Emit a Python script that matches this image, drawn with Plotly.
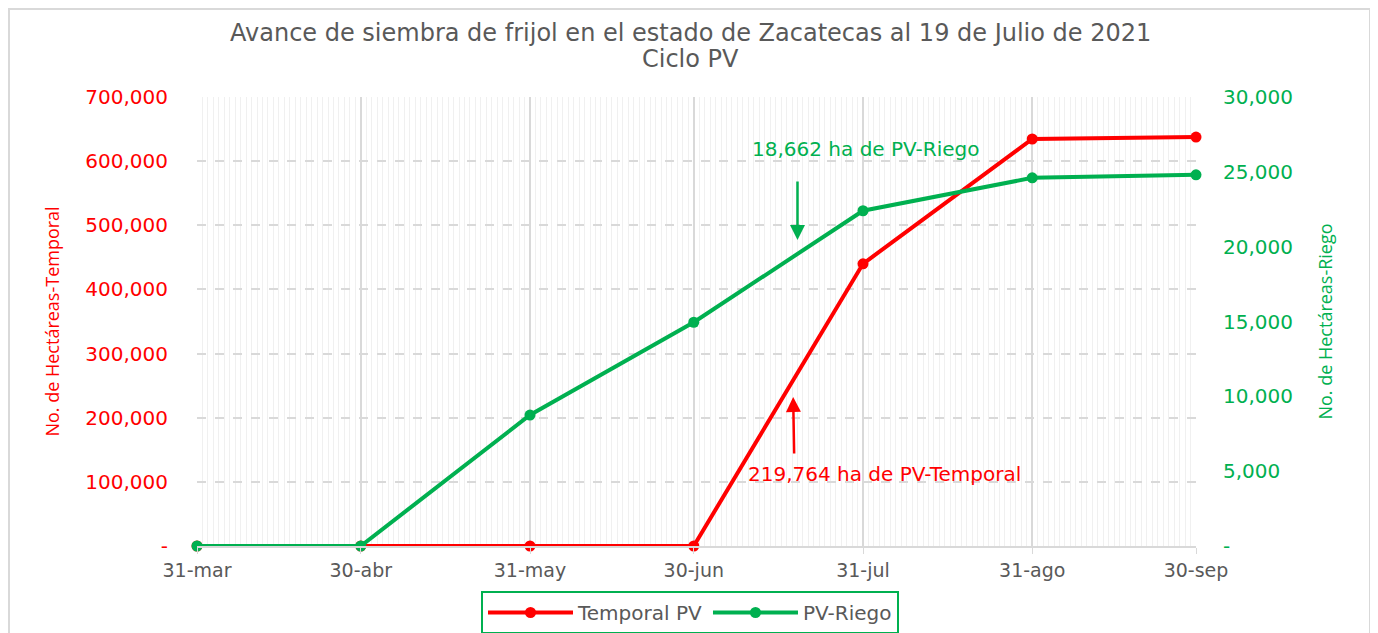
import plotly.graph_objects as go

fechas = ["2021-03-31", "2021-04-30", "2021-05-31", "2021-06-30", "2021-07-31", "2021-08-31", "2021-09-30"]
etiquetas_x = ["31-mar", "30-abr", "31-may", "30-jun", "31-jul", "31-ago", "30-sep"]
temporal_pv = [0, 0, 0, 0, 440000, 634500, 637500]
pv_riego = [0, 0, 8750, 14950, 22400, 24600, 24800]

ticks_izq = [0, 100000, 200000, 300000, 400000, 500000, 600000, 700000]
ticks_izq_txt = ["-", "100,000", "200,000", "300,000", "400,000", "500,000", "600,000", "700,000"]
ticks_der = [0, 5000, 10000, 15000, 20000, 25000, 30000]
ticks_der_txt = ["-", "5,000", "10,000", "15,000", "20,000", "25,000", "30,000"]

RED = "#ff0000"
GREEN = "#00b050"
GRAY = "#595959"
FONT = "DejaVu Sans"

# page has an 8px body margin; layout numbers below account for it
L, R, T, B = 189, 190, 89, 95
PW, PH = 1378 - L - R, 633 - T - B


def px(xp):
    return (xp - 8 - L) / PW


def py(yp):
    return (633 - B - (yp - 8)) / PH


fig = go.Figure()
fig.add_trace(go.Scatter(x=fechas, y=temporal_pv, name="Temporal PV", mode="lines+markers",
                         line=dict(color=RED, width=4), marker=dict(size=11, color=RED), cliponaxis=False))
fig.add_trace(go.Scatter(x=fechas, y=pv_riego, name="PV-Riego", mode="lines+markers", yaxis="y2",
                         line=dict(color=GREEN, width=4), marker=dict(size=11, color=GREEN), cliponaxis=False))

fig.update_layout(
    width=1378, height=633,
    margin=dict(l=L, r=R, t=T, b=B, autoexpand=False),
    paper_bgcolor="white", plot_bgcolor="white",
    font=dict(family=FONT, color=GRAY),
    xaxis=dict(type="date", range=["2021-03-31", "2021-09-30"], automargin=False,
               tickvals=fechas, ticktext=etiquetas_x,
               tickfont=dict(size=19, color=GRAY, family=FONT),
               showgrid=True, gridcolor="#d9d9d9", gridwidth=1.5,
               minor=dict(dtick=86400000, tick0="2021-03-31", showgrid=True, gridcolor="#f0f0f0", gridwidth=1),
               ticks="outside", ticklen=6, tickcolor="#d9d9d9",
               showline=True, linecolor="#d9d9d9", linewidth=1.5, zeroline=False),
    yaxis=dict(range=[0, 700000], tickvals=ticks_izq, ticktext=ticks_izq_txt, automargin=False,
               tickfont=dict(size=20, color=RED, family=FONT),
               title=dict(text="No. de Hectáreas-Temporal", font=dict(size=18, color=RED, family="Open Sans"), standoff=20),
               showgrid=True, gridcolor="#d9d9d9", griddash="dash", gridwidth=1.5,
               zeroline=False, ticklabelstandoff=28),
    yaxis2=dict(range=[0, 30000], overlaying="y", side="right", tickvals=ticks_der, ticktext=ticks_der_txt,
                automargin=False,
                tickfont=dict(size=20, color=GREEN, family=FONT),
                title=dict(text="No. de Hectáreas-Riego", font=dict(size=18, color=GREEN, family="Open Sans"), standoff=27),
                showgrid=False, zeroline=False, ticklabelstandoff=26),
    legend=dict(orientation="h", x=px(690), xanchor="center", y=py(591), yanchor="top",
                bordercolor=GREEN, borderwidth=2, font=dict(size=20, color=GRAY, family=FONT),
                itemwidth=85, tracegroupgap=0),
    showlegend=True,
)

# title (two lines)
fig.add_annotation(xref="paper", yref="paper", x=px(690), y=py(33), text="Avance de siembra de frijol en el estado de Zacatecas al 19 de Julio de 2021",
                   showarrow=False, xanchor="center", yanchor="middle", font=dict(size=24, color=GRAY, family=FONT))
fig.add_annotation(xref="paper", yref="paper", x=px(690), y=py(59), text="Ciclo PV",
                   showarrow=False, xanchor="center", yanchor="middle", font=dict(size=24, color=GRAY, family=FONT))

fig.add_annotation(x="2021-07-19", y=20450, yref="y2", ax=0, ay=-60, axref="pixel", ayref="pixel",
                   showarrow=True, arrowhead=2, arrowsize=1.2, arrowwidth=2.5, arrowcolor=GREEN, text="")
fig.add_annotation(x="2021-07-31 12:00", y=26550, yref="y2", text="18,662 ha de PV-Riego", showarrow=False,
                   font=dict(size=20, color=GREEN, family=FONT))
fig.add_annotation(x="2021-07-18 05:00", y=232300, yref="y", ax=1, ay=58, axref="pixel", ayref="pixel",
                   showarrow=True, arrowhead=2, arrowsize=1.2, arrowwidth=2.5, arrowcolor=RED, text="")
fig.add_annotation(x="2021-08-04", y=112250, yref="y", text="219,764 ha de PV-Temporal", showarrow=False,
                   font=dict(size=20, color=RED, family=FONT))

fig.add_shape(type="rect", xref="paper", yref="paper",
              x0=px(9), x1=px(1370), y0=-0.4, y1=py(9),
              line=dict(color="#d9d9d9", width=2), layer="below")

fig.write_html("out.html")
